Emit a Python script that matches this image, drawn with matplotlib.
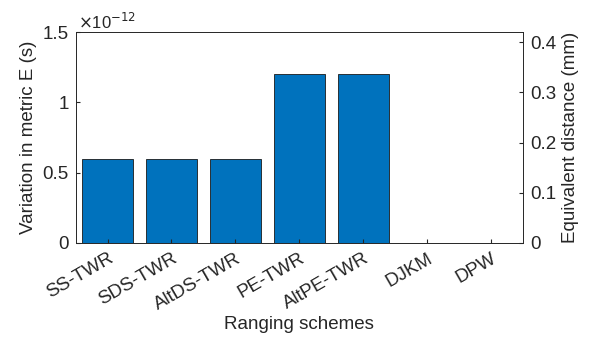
import matplotlib
matplotlib.use("Agg")
import matplotlib.pyplot as plt
from matplotlib.ticker import FuncFormatter

plt.rcParams['font.family'] = ['Liberation Sans', 'DejaVu Sans']
plt.rcParams['font.size'] = 13.5

schemes = ['SS-TWR', 'SDS-TWR', 'AltDS-TWR', 'PE-TWR', 'AltPE-TWR', 'DJKM', 'DPW']
variation = [0.6e-12, 0.6e-12, 0.6e-12, 1.2e-12, 1.2e-12, 2e-16, 2e-16]

fig = plt.figure(figsize=(5.98, 3.45), dpi=100)
ax = fig.add_axes([0.1265, 0.296, 0.748, 0.611])

x = list(range(1, len(schemes) + 1))
ax.bar(x, variation, width=0.8, color='#0072BD', edgecolor='#1a1a1a', linewidth=0.6)

ax.set_xlim(0.5, 7.5)
ax.set_ylim(0, 1.5e-12)
ax.set_yticks([0, 0.5e-12, 1e-12, 1.5e-12])
ax.yaxis.set_major_formatter(FuncFormatter(lambda v, p: '%g' % round(v / 1e-12, 3)))
ax.text(0.005, 1.0, r'$\times$10$^{-12}$', transform=ax.transAxes, fontsize=12,
        ha='left', va='bottom', color='#262626')
ax.set_xticks(x)
ax.set_xticklabels(schemes, rotation=30, ha='right', rotation_mode='anchor')
ax.set_xlabel('Ranging schemes', color='#262626', labelpad=2)
ax.set_ylabel('Variation in metric E (s)', color='#262626', labelpad=4)
ax.tick_params(direction='in', length=3, colors='#262626', top=False, pad=5)

ax2 = ax.twinx()
ax2.set_ylim(0, 0.42)
ax2.set_yticks([0, 0.1, 0.2, 0.3, 0.4])
ax2.yaxis.set_major_formatter(FuncFormatter(lambda v, p: '%g' % round(v, 3)))
ax2.set_ylabel('Equivalent distance (mm)', color='#262626', labelpad=4)
ax2.tick_params(direction='in', length=3, colors='#262626', pad=5)

for a in (ax, ax2):
    for s in a.spines.values():
        s.set_color('#262626')
        s.set_linewidth(0.6)

fig.savefig('out.png', dpi=100)
